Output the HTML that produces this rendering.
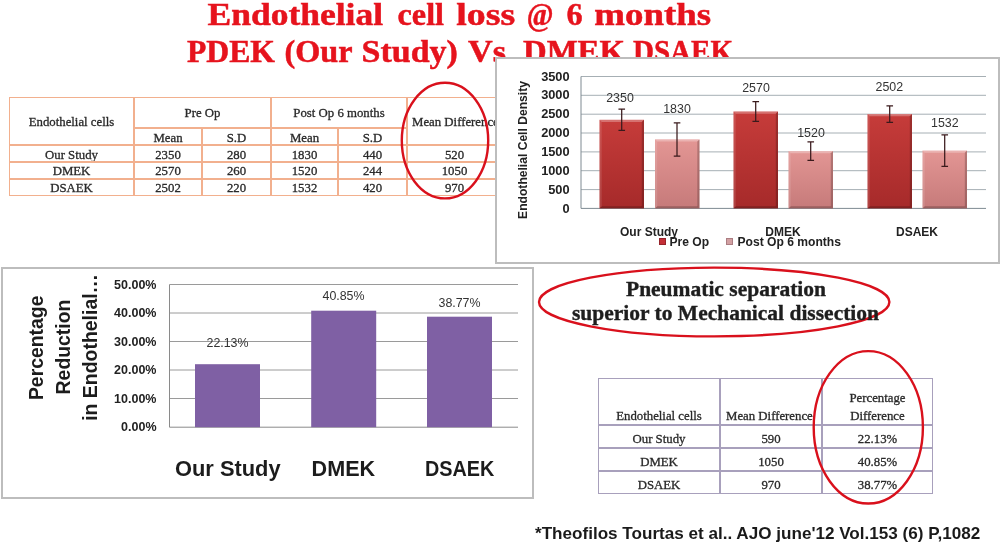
<!DOCTYPE html>
<html lang="en">
<head>
<meta charset="utf-8">
<title>Endothelial cell loss @ 6 months</title>
<style>
html,body{margin:0;padding:0;background:#fff;}
body{width:1000px;height:544px;position:relative;overflow:hidden;filter:blur(0.5px);font-family:"Liberation Sans",sans-serif;}
.abs{position:absolute;}
#title{left:0;top:0;width:1000px;height:80px;}
#title text{font-family:"Liberation Serif",serif;font-weight:bold;font-size:31.5px;fill:#e6131d;stroke:#e6131d;stroke-width:0.5px;}
table{border-collapse:separate;border-spacing:0;font-family:"Liberation Serif",serif;font-size:12.8px;color:#2a2a2a;-webkit-text-stroke:0.3px #2a2a2a;}
td{padding:0;text-align:center;vertical-align:middle;white-space:nowrap;overflow:hidden;}
#t1{left:9px;top:97px;width:493px;table-layout:fixed;}
#t1 td{border:1px solid #f2b08e;height:15px;line-height:14px;}
#t1 .d1 td{padding-top:3px;height:12px;line-height:12px;}
#t1 td.d1{padding-top:2px;height:13px;line-height:13px;}
#t2{left:598px;top:378px;width:335px;table-layout:fixed;}
#t2 td{border:1px solid #a8a0bc;height:21px;line-height:15px;vertical-align:bottom;}
#t2 tr.h td{height:45px;line-height:17.5px;}
#t2 tr.h span{position:relative;top:1px;display:inline-block;}
.box{background:#fff;border:2px solid #bdbdbd;box-sizing:border-box;}
#c1{left:495px;top:57px;width:505px;height:207px;}
#c2{left:1px;top:267px;width:533px;height:232px;}
svg{display:block;overflow:visible;}
svg text{font-family:"Liberation Sans",sans-serif;}
#foot{left:535px;top:522px;font-weight:bold;font-size:17.1px;color:#1a1a1a;white-space:nowrap;line-height:24px;}
</style>
</head>
<body>

<!-- Title -->
<svg id="title" class="abs" width="1000" height="80" viewBox="0 0 1000 80">
  <text y="24.8"><tspan x="207.5" textLength="175.5" lengthAdjust="spacingAndGlyphs">Endothelial</tspan> <tspan x="397.6" textLength="46.4" lengthAdjust="spacingAndGlyphs">cell</tspan> <tspan x="456.3" textLength="58.9" lengthAdjust="spacingAndGlyphs">loss</tspan> <tspan x="526.7" textLength="26.7" lengthAdjust="spacingAndGlyphs">@</tspan> <tspan x="566.4" textLength="16.1" lengthAdjust="spacingAndGlyphs">6</tspan> <tspan x="594.3" textLength="116.7" lengthAdjust="spacingAndGlyphs">months</tspan></text>
  <text y="61.6"><tspan x="187" textLength="88" lengthAdjust="spacingAndGlyphs">PDEK</tspan> <tspan x="284.6" textLength="67.4" lengthAdjust="spacingAndGlyphs">(Our</tspan> <tspan x="361.6" textLength="96.2" lengthAdjust="spacingAndGlyphs">Study)</tspan> <tspan x="468" textLength="38" lengthAdjust="spacingAndGlyphs">Vs</tspan> <tspan x="523" textLength="102" lengthAdjust="spacingAndGlyphs">DMEK</tspan> <tspan x="633" textLength="100" lengthAdjust="spacingAndGlyphs">DSAEK</tspan></text>
</svg>

<!-- Table 1 -->
<table id="t1" class="abs">
  <colgroup><col style="width:125px"><col style="width:68px"><col style="width:69px"><col style="width:67px"><col style="width:69px"><col style="width:95px"></colgroup>
  <tr><td rowspan="2" class="d1">Endothelial cells</td><td colspan="2" style="height:29px">Pre Op</td><td colspan="2">Post Op 6 months</td><td rowspan="2" class="d1" style="text-align:left;padding-left:4px">Mean Difference</td></tr>
  <tr class="d1"><td>Mean</td><td>S.D</td><td>Mean</td><td>S.D</td></tr>
  <tr class="d1"><td>Our Study</td><td>2350</td><td>280</td><td>1830</td><td>440</td><td>520</td></tr>
  <tr><td>DMEK</td><td>2570</td><td>260</td><td>1520</td><td>244</td><td>1050</td></tr>
  <tr><td>DSAEK</td><td>2502</td><td>220</td><td>1532</td><td>420</td><td>970</td></tr>
</table>

<!-- Ellipse 1 -->
<svg class="abs" style="left:395px;top:78px" width="100" height="125" viewBox="395 78 100 125">
  <ellipse cx="445" cy="140.6" rx="43.2" ry="57.8" fill="none" stroke="#d9101c" stroke-width="2.4"/>
</svg>

<!-- Chart 1 -->
<div id="c1" class="abs box">
<svg width="501" height="203" viewBox="497 59 501 203">
  <defs>
    <linearGradient id="gr" x1="0" y1="0" x2="0" y2="1"><stop offset="0" stop-color="#c63c3a"/><stop offset="1" stop-color="#a62a2a"/></linearGradient>
    <linearGradient id="gp" x1="0" y1="0" x2="0" y2="1"><stop offset="0" stop-color="#e39694"/><stop offset="1" stop-color="#c67a7a"/></linearGradient>
  </defs>
  <g stroke="#a6afb4" stroke-width="1" fill="none">
    <path d="M581 76.5H986M581 95.3H986M581 114.2H986M581 133H986M581 151.9H986M581 170.7H986M581 189.6H986"/>
    <path d="M581 76.5V208.4H986" stroke="#7e8a92"/>
  </g>
  <g id="bars1">
    <rect x="599.5" y="119.8" width="44.5" height="88.6" fill="url(#gr)"/>
    <path d="M599.5 119.8h44.5l-2.2 2.2H601.7z" fill="#fff" fill-opacity="0.28"/>
    <path d="M599.5 119.8l2.2 2.2V206.2L599.5 208.4z" fill="#fff" fill-opacity="0.12"/>
    <path d="M644.0 119.8l-2.2 2.2V206.2L644.0 208.4z" fill="#000" fill-opacity="0.2"/>
    <path d="M599.5 208.4l2.2 -2.2H641.8L644.0 208.4z" fill="#000" fill-opacity="0.22"/>
    <rect x="655" y="139.4" width="44.5" height="69.0" fill="url(#gp)"/>
    <path d="M655 139.4h44.5l-2.2 2.2H657.2z" fill="#fff" fill-opacity="0.28"/>
    <path d="M655 139.4l2.2 2.2V206.2L655 208.4z" fill="#fff" fill-opacity="0.12"/>
    <path d="M699.5 139.4l-2.2 2.2V206.2L699.5 208.4z" fill="#000" fill-opacity="0.2"/>
    <path d="M655 208.4l2.2 -2.2H697.3L699.5 208.4z" fill="#000" fill-opacity="0.22"/>
    <rect x="733.5" y="111.5" width="44.5" height="96.9" fill="url(#gr)"/>
    <path d="M733.5 111.5h44.5l-2.2 2.2H735.7z" fill="#fff" fill-opacity="0.28"/>
    <path d="M733.5 111.5l2.2 2.2V206.2L733.5 208.4z" fill="#fff" fill-opacity="0.12"/>
    <path d="M778.0 111.5l-2.2 2.2V206.2L778.0 208.4z" fill="#000" fill-opacity="0.2"/>
    <path d="M733.5 208.4l2.2 -2.2H775.8L778.0 208.4z" fill="#000" fill-opacity="0.22"/>
    <rect x="788.5" y="151.1" width="44.5" height="57.3" fill="url(#gp)"/>
    <path d="M788.5 151.1h44.5l-2.2 2.2H790.7z" fill="#fff" fill-opacity="0.28"/>
    <path d="M788.5 151.1l2.2 2.2V206.2L788.5 208.4z" fill="#fff" fill-opacity="0.12"/>
    <path d="M833.0 151.1l-2.2 2.2V206.2L833.0 208.4z" fill="#000" fill-opacity="0.2"/>
    <path d="M788.5 208.4l2.2 -2.2H830.8L833.0 208.4z" fill="#000" fill-opacity="0.22"/>
    <rect x="867.5" y="114.1" width="44.5" height="94.3" fill="url(#gr)"/>
    <path d="M867.5 114.1h44.5l-2.2 2.2H869.7z" fill="#fff" fill-opacity="0.28"/>
    <path d="M867.5 114.1l2.2 2.2V206.2L867.5 208.4z" fill="#fff" fill-opacity="0.12"/>
    <path d="M912.0 114.1l-2.2 2.2V206.2L912.0 208.4z" fill="#000" fill-opacity="0.2"/>
    <path d="M867.5 208.4l2.2 -2.2H909.8L912.0 208.4z" fill="#000" fill-opacity="0.22"/>
    <rect x="922.5" y="150.6" width="44.5" height="57.8" fill="url(#gp)"/>
    <path d="M922.5 150.6h44.5l-2.2 2.2H924.7z" fill="#fff" fill-opacity="0.28"/>
    <path d="M922.5 150.6l2.2 2.2V206.2L922.5 208.4z" fill="#fff" fill-opacity="0.12"/>
    <path d="M967.0 150.6l-2.2 2.2V206.2L967.0 208.4z" fill="#000" fill-opacity="0.2"/>
    <path d="M922.5 208.4l2.2 -2.2H964.8L967.0 208.4z" fill="#000" fill-opacity="0.22"/>
  </g>
  <g stroke="#3a1a1c" stroke-width="1.25" fill="none">
    <path d="M621.7 109.2V130.4M618.45 109.2h6.6M618.45 130.4h6.6"/>
    <path d="M677 122.8V156M673.75 122.8h6.6M673.75 156h6.6"/>
    <path d="M755.7 101.7V121.3M752.45 101.7h6.6M752.45 121.3h6.6"/>
    <path d="M810.7 141.9V160.3M807.45 141.9h6.6M807.45 160.3h6.6"/>
    <path d="M889.7 105.8V122.4M886.45 105.8h6.6M886.45 122.4h6.6"/>
    <path d="M944.7 134.8V166.4M941.45 134.8h6.6M941.45 166.4h6.6"/>
  </g>
  <g font-size="12.4" fill="#333" text-anchor="middle">
    <text x="620" y="101.8">2350</text>
    <text x="677" y="112.5">1830</text>
    <text x="756" y="92">2570</text>
    <text x="811" y="137">1520</text>
    <text x="889.3" y="90.5">2502</text>
    <text x="944.8" y="126.5">1532</text>
  </g>
  <g font-size="12.8" font-weight="bold" fill="#222" text-anchor="end">
    <text x="569.6" y="80.6">3500</text>
    <text x="569.6" y="99.4">3000</text>
    <text x="569.6" y="118.3">2500</text>
    <text x="569.6" y="137.1">2000</text>
    <text x="569.6" y="156.0">1500</text>
    <text x="569.6" y="174.8">1000</text>
    <text x="569.6" y="193.7">500</text>
    <text x="569.6" y="212.5">0</text>
  </g>
  <text transform="translate(527 150) rotate(-90)" font-size="12.1" font-weight="bold" fill="#222" text-anchor="middle">Endothelial Cell Density</text>
  <g font-size="12" font-weight="bold" fill="#222" text-anchor="middle">
    <text x="649" y="236">Our Study</text>
    <text x="783" y="236">DMEK</text>
    <text x="917" y="236">DSAEK</text>
  </g>
  <rect x="659.5" y="238.5" width="6" height="6" fill="#c42f37" stroke="#96232b" stroke-width="1"/>
  <rect x="726.5" y="238.5" width="6" height="6" fill="#d2a0a2" stroke="#ab7d82" stroke-width="1"/>
  <g font-size="12.1" font-weight="bold" fill="#222">
    <text x="669.5" y="245.5">Pre Op</text>
    <text x="737.5" y="245.5">Post Op 6 months</text>
  </g>
</svg>
</div>

<!-- Chart 2 -->
<div id="c2" class="abs box">
<svg width="529" height="228" viewBox="3 269 529 228">
  <g stroke="#9a9a9a" stroke-width="1" fill="none">
    <path d="M169.5 284.5H518M169.5 313H518M169.5 341.5H518M169.5 370H518M169.5 398.5H518"/>
    <path d="M169.5 284.5V427.2H518" stroke="#8a8a8a"/>
  </g>
  <g fill="#7f60a4">
    <rect x="195" y="364.2" width="65" height="63"/>
    <rect x="311.2" y="310.7" width="65" height="116.5"/>
    <rect x="427" y="316.7" width="65" height="110.5"/>
  </g>
  <g font-size="12.4" fill="#333" text-anchor="middle">
    <text x="227.5" y="346.5">22.13%</text>
    <text x="343.5" y="300">40.85%</text>
    <text x="459.5" y="306.5">38.77%</text>
  </g>
  <g font-size="12.5" font-weight="bold" fill="#222" text-anchor="end">
    <text x="156.5" y="288.5">50.00%</text>
    <text x="156.5" y="317.0">40.00%</text>
    <text x="156.5" y="345.5">30.00%</text>
    <text x="156.5" y="374.0">20.00%</text>
    <text x="156.5" y="402.5">10.00%</text>
    <text x="156.5" y="431.0">0.00%</text>
  </g>
  <g font-size="19.4" font-weight="bold" fill="#1c1c1c" text-anchor="middle">
    <text transform="translate(42.8 347.8) rotate(-90) scale(1 1.06)">Percentage</text>
    <text transform="translate(69.9 347) rotate(-90) scale(1 1.06)">Reduction</text>
    <text transform="translate(96.5 347.4) rotate(-90) scale(1 1.06)" font-size="19.45">in Endothelial…</text>
  </g>
  <g font-size="21.6" font-weight="bold" fill="#1c1c1c">
    <text x="175" y="475.8" textLength="105.6" lengthAdjust="spacingAndGlyphs">Our Study</text>
    <text x="311.6" y="475.8" textLength="63.6" lengthAdjust="spacingAndGlyphs">DMEK</text>
    <text x="425" y="475.8" textLength="69.4" lengthAdjust="spacingAndGlyphs">DSAEK</text>
  </g>
</svg>
</div>

<!-- Ellipse 2 with text -->
<svg class="abs" style="left:530px;top:262px" width="370" height="82" viewBox="530 262 370 82">
  <ellipse cx="714.2" cy="302" rx="175.2" ry="34.4" fill="none" stroke="#d9101c" stroke-width="2.4"/>
  <g font-size="20" font-weight="bold" fill="#1e1e1e" stroke="#1e1e1e" stroke-width="0.35" text-anchor="middle" style="font-family:'Liberation Serif',serif">
    <text x="726" y="296" textLength="200" lengthAdjust="spacingAndGlyphs" style="font-family:'Liberation Serif',serif">Pneumatic separation</text>
    <text x="725.5" y="319.5" textLength="307" lengthAdjust="spacingAndGlyphs" style="font-family:'Liberation Serif',serif">superior to Mechanical dissection</text>
  </g>
</svg>

<!-- Table 2 -->
<table id="t2" class="abs">
  <colgroup><col style="width:122px"><col style="width:102px"><col style="width:111px"></colgroup>
  <tr class="h"><td><span>Endothelial cells</span></td><td style="text-align:left;padding-left:5px"><span>Mean Difference</span></td><td><span>Percentage<br>Difference</span></td></tr>
  <tr><td>Our Study</td><td>590</td><td>22.13%</td></tr>
  <tr><td>DMEK</td><td>1050</td><td>40.85%</td></tr>
  <tr><td>DSAEK</td><td>970</td><td>38.77%</td></tr>
</table>

<!-- Ellipse 3 -->
<svg class="abs" style="left:805px;top:345px" width="130" height="170" viewBox="805 345 130 170">
  <ellipse cx="868.3" cy="427.3" rx="54.6" ry="76.2" fill="none" stroke="#d9101c" stroke-width="2.4"/>
</svg>

<div id="foot" class="abs">*Theofilos Tourtas et al.. AJO june'12 Vol.153 (6) P,1082</div>

</body>
</html>
